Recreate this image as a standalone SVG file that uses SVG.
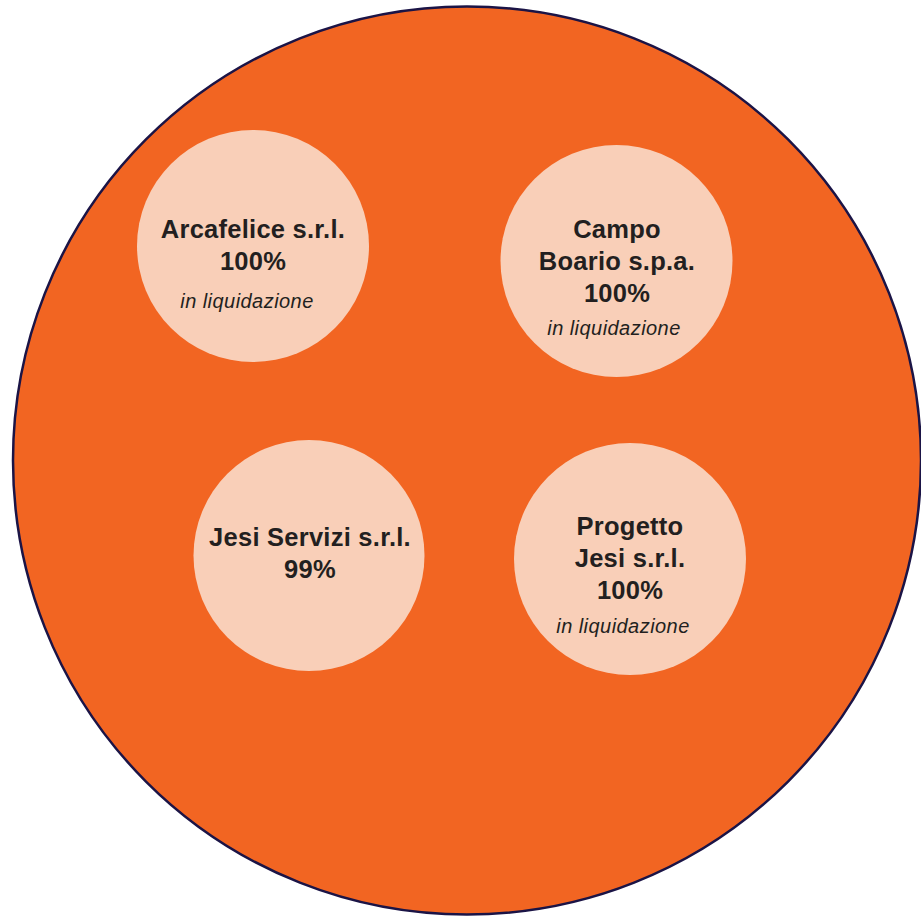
<svg xmlns="http://www.w3.org/2000/svg" width="921" height="918" viewBox="0 0 921 918">
<style>
.bg{fill:#F26522;stroke:#1B1446;stroke-width:2.5}
.c{fill:#F9CFB8}
.t{font-family:"Liberation Sans",Arial,sans-serif;font-weight:bold;font-size:25.5px;letter-spacing:0.25px;fill:#231F20;text-anchor:middle}
.i{font-family:"Liberation Sans",Arial,sans-serif;font-style:italic;font-size:20px;letter-spacing:0.45px;fill:#231F20;text-anchor:middle}
</style>
<rect width="921" height="918" fill="#ffffff"/>
<g id="main">
<circle class="bg" cx="467" cy="460.5" r="454"/>
</g>
<g id="connectors"></g>
<g id="arcafelice">
<circle class="c" cx="253" cy="246" r="116"/>
<text class="t" x="253" y="238">Arcafelice s.r.l.</text>
<text class="t" x="253" y="270">100%</text>
<text class="i" x="247" y="308">in liquidazione</text>
</g>
<g id="campo-boario">
<circle class="c" cx="616.5" cy="261" r="116"/>
<text class="t" x="617" y="238">Campo</text>
<text class="t" x="617" y="270">Boario s.p.a.</text>
<text class="t" x="617" y="302">100%</text>
<text class="i" x="614" y="335">in liquidazione</text>
</g>
<g id="jesi-servizi">
<circle class="c" cx="309" cy="555.5" r="115.5"/>
<text class="t" x="310" y="546">Jesi Servizi s.r.l.</text>
<text class="t" x="310" y="578">99%</text>
</g>
<g id="progetto-jesi">
<circle class="c" cx="630" cy="559" r="116"/>
<text class="t" x="630" y="535">Progetto</text>
<text class="t" x="630" y="567">Jesi s.r.l.</text>
<text class="t" x="630" y="599">100%</text>
<text class="i" x="623" y="633">in liquidazione</text>
</g>
</svg>
